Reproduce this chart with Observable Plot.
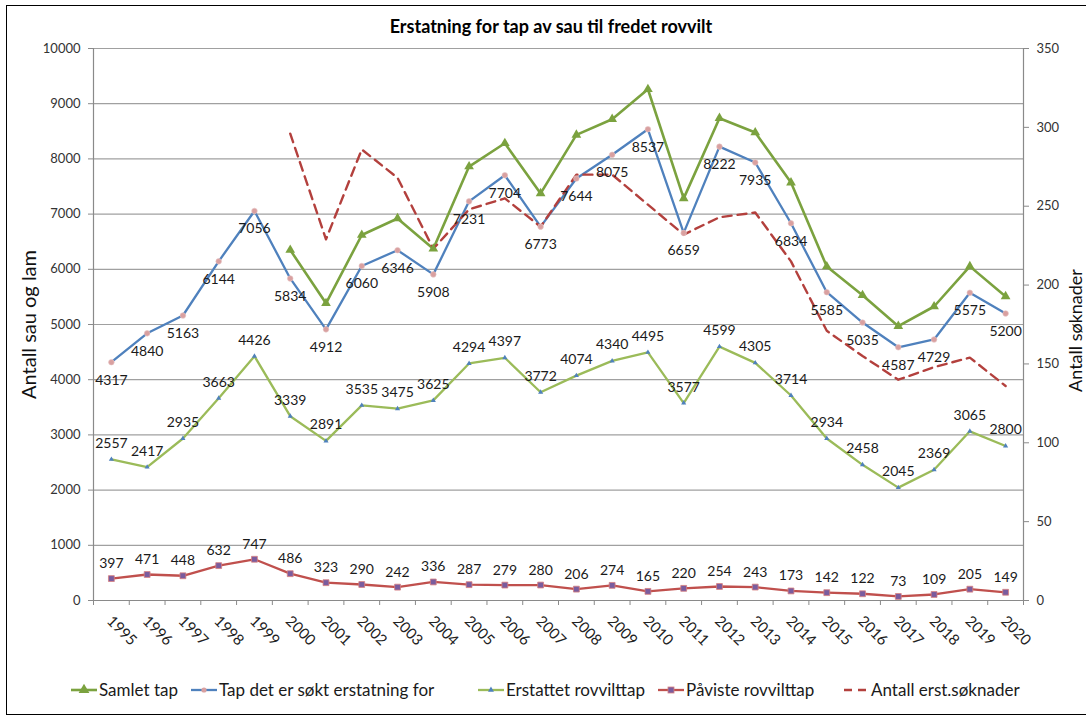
<!DOCTYPE html>
<html>
<head>
<meta charset="utf-8">
<script src="https://cdn.jsdelivr.net/npm/d3@7"></script>
<script src="https://cdn.jsdelivr.net/npm/@observablehq/plot@0.6"></script>
<style>
  body { margin: 0; background: #fff; font-family: Lato, "Open Sans", sans-serif; }
  #wrap { position: relative; width: 1086px; height: 721px; overflow: hidden; background: #fff; }
  #frame { position: absolute; left: 6px; top: 5px; width: 1090px; height: 710px; border: 1.5px solid #000; box-sizing: border-box; pointer-events: none; }
  #title { position: absolute; top: 15px; left: 0; width: 1102px; text-align: center; font-weight: bold; font-size: 18px; color: #000; }
  #chart { position: absolute; left: 0; top: 40px; }
  .leg { position: absolute; top: 679px; display: flex; align-items: center; font-size: 17px; color: #1a1a1a; white-space: nowrap; }
  .leg svg { display: block; margin-right: 2px; }
</style>
</head>
<body>
<div id="wrap">
  <div id="title">Erstatning for tap av sau til fredet rovvilt</div>
  <div id="chart"></div>
  <div id="legend"></div>
  <div id="frame"></div>
</div>
<script>
// ---- data ----
const yearsAll = [1995,1996,1997,1998,1999,2000,2001,2002,2003,2004,2005,2006,2007,2008,2009,2010,2011,2012,2013,2014,2015,2016,2017,2018,2019,2020];
const yearsFrom2000 = [2000,2001,2002,2003,2004,2005,2006,2007,2008,2009,2010,2011,2012,2013,2014,2015,2016,2017,2018,2019,2020];
const samletTap = [6350,5384,6621,6921,6372,7861,8284,7375,8435,8719,9262,7285,8737,8477,7571,6051,5529,4970,5326,6053,5509];
const tapSokt = [4317,4840,5163,6144,7056,5834,4912,6060,6346,5908,7231,7704,6773,7644,8075,8537,6659,8222,7935,6834,5585,5035,4587,4729,5575,5200];
const erstattet = [2557,2417,2935,3663,4426,3339,2891,3535,3475,3625,4294,4397,3772,4074,4340,4495,3577,4599,4305,3714,2934,2458,2045,2369,3065,2800];
const paviste = [397,471,448,632,747,486,323,290,242,336,287,279,280,206,274,165,220,254,243,173,142,122,73,109,205,149];
const antallSoknader = [296,229,286,268,223,248,255,237,270,270,251,232,243,246,215,171,155,140,148,154,136];
const leftTicks = [0,1000,2000,3000,4000,5000,6000,7000,8000,9000,10000];
const rightTicks = [0,50,100,150,200,250,300,350];
const seriesNames = ["Samlet tap","Tap det er søkt erstatning for","Erstattet rovvilttap","Påviste rovvilttap","Antall erst.søknader"];
const leftTitle = "Antall sau og lam";
const rightTitle = "Antall søknader";

// ---- styles ----
const C = {
  samlet: "#7BA23F",
  sokt: "#4F81BD",
  erst: "#9BBB59",
  pav: "#C0504D",
  ant: "#B3403D"
};
const LMAX = leftTicks[leftTicks.length - 1];
const RMAX = rightTicks[rightTicks.length - 1];
const toLeft = v => v * LMAX / RMAX;

const rows = (years, vals) => years.map((year, i) => ({year, v: vals[i]}));
const dSamlet = rows(yearsFrom2000, samletTap);
const dSokt = rows(yearsAll, tapSokt);
const dErst = rows(yearsAll, erstattet);
const dPav = rows(yearsAll, paviste);
const dAnt = rows(yearsFrom2000, antallSoknader).map(d => ({year: d.year, v: toLeft(d.v)}));

const xMin = yearsAll[0] - 0.5, xMax = yearsAll[yearsAll.length - 1] + 0.5;
const bounds = yearsAll.map(y => y - 0.5).concat([xMax]);
const axisGray = "#8a8a8a";
const F = "Lato, 'Open Sans', sans-serif";

const chart = Plot.plot({
  width: 1086,
  height: 620,
  marginTop: 8,
  marginBottom: 60,
  marginLeft: 93,
  marginRight: 63,
  x: {type: "linear", domain: [xMin, xMax], axis: null},
  y: {domain: [0, LMAX], axis: null},
  style: {fontFamily: F, fontSize: "13px", color: "#333", background: "transparent", overflow: "visible"},
  marks: [
    Plot.gridY(leftTicks.slice(1), {stroke: "#a0a0a0", strokeOpacity: 1, strokeWidth: 1.2}),
    Plot.ruleY([0], {stroke: axisGray, strokeWidth: 1.2}),
    Plot.ruleX([xMin, xMax], {stroke: axisGray, strokeWidth: 1.2}),
    Plot.axisY(leftTicks, {anchor: "left", tickSize: 5, tickPadding: 8, stroke: axisGray, fill: "#333", label: null, fontSize: 13, tickFormat: d => String(d)}),
    Plot.axisY(rightTicks.map(toLeft), {anchor: "right", tickSize: 5, tickPadding: 8, stroke: axisGray, fill: "#333", label: null, fontSize: 13, tickFormat: d => String(Math.round(d * RMAX / LMAX))}),
    Plot.axisX(bounds, {anchor: "bottom", tickSize: 5, tickFormat: () => "", stroke: axisGray, label: null}),
    Plot.axisX(yearsAll, {anchor: "bottom", tickSize: 0, tickPadding: 18, tickRotate: 45, dx: -2, tickFormat: d => String(d), fill: "#222", label: null, fontSize: 15}),
    Plot.text([leftTitle], {frameAnchor: "left", textAnchor: "middle", dx: -64, rotate: -90, fontSize: 20, fill: "#111"}),
    Plot.text([rightTitle], {frameAnchor: "right", textAnchor: "middle", dx: 53, dy: 6, rotate: -90, fontSize: 18, fill: "#111"}),
    // series lines
    Plot.line(dSamlet, {x: "year", y: "v", stroke: C.samlet, strokeWidth: 2.6}),
    Plot.line(dSokt, {x: "year", y: "v", stroke: C.sokt, strokeWidth: 2.3}),
    Plot.line(dErst, {x: "year", y: "v", stroke: C.erst, strokeWidth: 2.3}),
    Plot.line(dPav, {x: "year", y: "v", stroke: C.pav, strokeWidth: 2.3}),
    Plot.line(dAnt, {x: "year", y: "v", stroke: C.ant, strokeWidth: 2.4, strokeDasharray: "9,6"}),
    // markers
    Plot.dot(dSamlet, {x: "year", y: "v", symbol: "triangle", r: 3.6, fill: C.samlet}),
    Plot.dot(dSokt, {x: "year", y: "v", symbol: "circle", r: 2.8, fill: "#D9A0A0", stroke: "#E6C4C4", strokeWidth: 0.6}),
    Plot.dot(dErst, {x: "year", y: "v", symbol: "triangle", r: 1.9, fill: "#4F81BD"}),
    Plot.dot(dPav, {x: "year", y: "v", symbol: "square", r: 3.3, fill: "#7A5C9E", stroke: "#D88080", strokeWidth: 0.8}),
    // data labels
    Plot.text(dSokt, {x: "year", y: "v", text: d => String(d.v), dy: 18, fontSize: 14, fill: "#1a1a1a"}),
    Plot.text(dErst, {x: "year", y: "v", text: d => String(d.v), dy: -16, fontSize: 14, fill: "#1a1a1a"}),
    Plot.text(dPav, {x: "year", y: "v", text: d => String(d.v), dy: -15, fontSize: 14, fill: "#1a1a1a"})
  ]
});
document.getElementById("chart").appendChild(chart);

// ---- legend ----
const legendItems = [
  {name: seriesNames[0], left: 71, stroke: C.samlet, sw: 2.6, marker: "tri", mfill: C.samlet, ms: 4},
  {name: seriesNames[1], left: 191, stroke: C.sokt, sw: 2.3, marker: "circ", mfill: "#D9A0A0", ms: 2.6},
  {name: seriesNames[2], left: 478, stroke: C.erst, sw: 2.3, marker: "tri", mfill: "#4F81BD", ms: 2.2},
  {name: seriesNames[3], left: 658, stroke: C.pav, sw: 2.3, marker: "sq", mfill: "#7A5C9E", ms: 3},
  {name: seriesNames[4], left: 843, stroke: C.ant, sw: 2.4, marker: "dash"}
];
const legend = document.getElementById("legend");
for (const it of legendItems) {
  const div = document.createElement("div");
  div.className = "leg";
  div.style.left = it.left + "px";
  let m = "";
  if (it.marker === "tri") m = `<path d="${d3.symbol(d3.symbolTriangle, Math.PI * it.ms * it.ms)()}" transform="translate(13,8)" fill="${it.mfill}"/>`;
  if (it.marker === "circ") m = `<circle cx="13" cy="8" r="${it.ms}" fill="${it.mfill}"/>`;
  if (it.marker === "sq") m = `<rect x="${13 - it.ms}" y="${8 - it.ms}" width="${2 * it.ms}" height="${2 * it.ms}" fill="${it.mfill}" stroke="#D88080" stroke-width="0.8"/>`;
  const line = it.marker === "dash"
    ? `<line x1="1" x2="26" y1="8" y2="8" stroke="${it.stroke}" stroke-width="${it.sw}" stroke-dasharray="8,6"/>`
    : `<line x1="0" x2="26" y1="8" y2="8" stroke="${it.stroke}" stroke-width="${it.sw}"/>`;
  div.innerHTML = `<svg width="26" height="16">${line}${m}</svg><span>${it.name}</span>`;
  legend.appendChild(div);
}
</script>
</body>
</html>
